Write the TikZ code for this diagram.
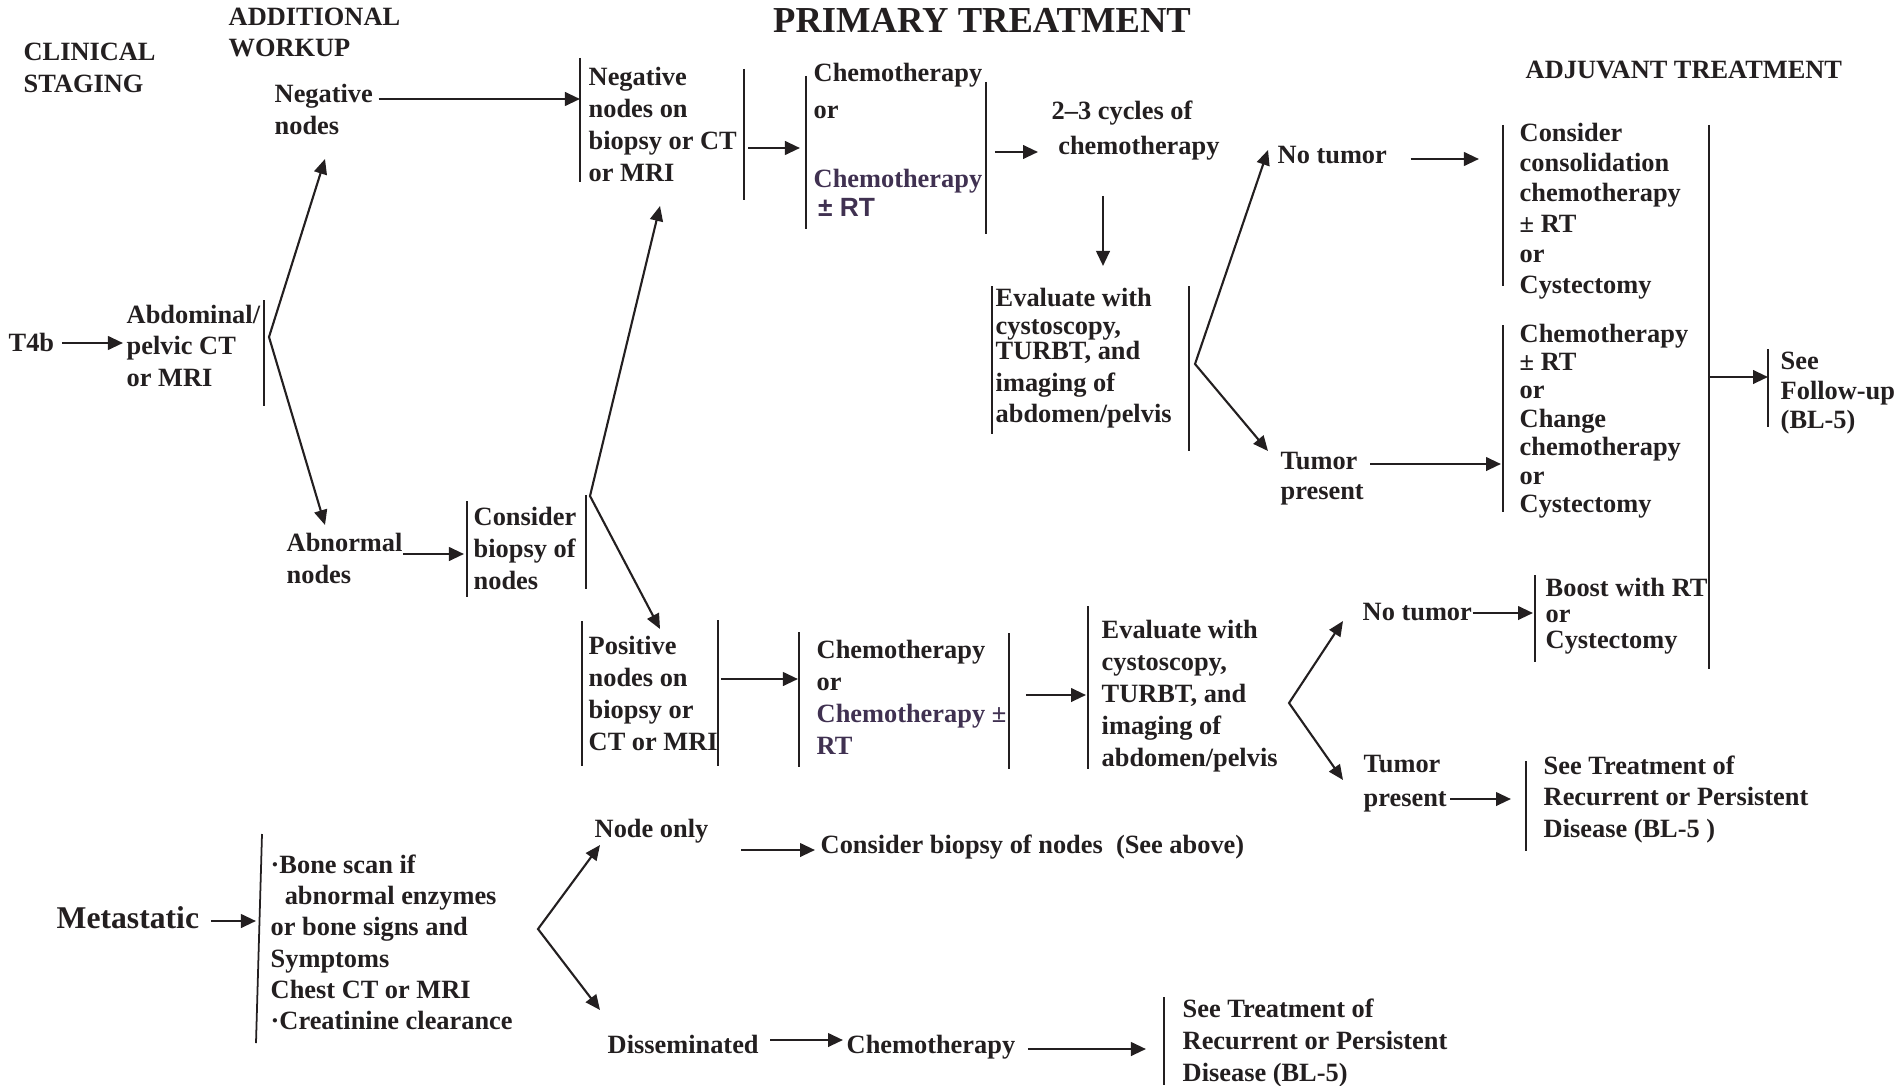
\documentclass[tikz,border=0pt]{standalone}
\usepackage{fontspec}
\setmainfont{Liberation Serif}
\newfontfamily\sansb{Liberation Sans}
\usetikzlibrary{arrows.meta}
\definecolor{ink}{HTML}{231F20}
\definecolor{purp}{HTML}{403151}
\newcommand{\lsp}[1]{\fontsize{7.5pt}{#1}\selectfont}

\begin{document}
\begin{tikzpicture}[
  x=0.01cm, y=-0.01cm,
  txt/.style={inner sep=0pt, align=left, anchor=north west, text=ink, font=\bfseries\lsp{9.1pt}},
  lh/.style={font=\bfseries\lsp{#1}},
  arr/.style={draw=ink, line width=0.7pt, -{Triangle[length=1.5mm, width=1.35mm]}},
  fork/.style={draw=ink, line width=0.6pt, line join=miter,
    {Triangle[length=1.5mm, width=1.3mm]}-{Triangle[length=1.5mm, width=1.3mm]}},
  bar/.style={draw=ink, line width=0.5pt},
]
\useasboundingbox (0,0) rectangle (1901,1085);

\node[txt] (hclin) at (23,42) {CLINICAL\\STAGING};
\node[txt, lh=8.8pt] (hwork) at (228,7) {ADDITIONAL\\WORKUP};
\node[txt, anchor=base, font=\bfseries\fontsize{10.4pt}{12pt}\selectfont] (hprim) at (982,33) {PRIMARY TREATMENT};
\node[txt] (hadj) at (1525,60) {ADJUVANT TREATMENT};

\node[txt] (t4b) at (8,332) {T4b};
\node[txt, lh=9pt] (abd) at (126,304) {Abdominal/\\pelvic CT\\or MRI};
\node[txt] (negn) at (274,83) {Negative\\nodes};
\node[txt] (abn) at (286,532) {Abnormal\\nodes};
\node[txt] (bxcons) at (473,506) {Consider\\biopsy of\\nodes};
\node[txt] (negbx) at (588,66) {Negative\\nodes on\\biopsy or CT\\or MRI};
\node[txt] (posn) at (588,635) {Positive\\nodes on\\biopsy or\\CT or MRI};
\node[txt] (chemo1) at (813,62) {Chemotherapy\\[1.7pt]or\\[10.5pt]{\color{purp}Chemotherapy}\\[-1.1pt]{\color{purp}\sansb\,± RT}};
\node[txt] (chemo3) at (816,639) {Chemotherapy\\or\\{\color{purp}Chemotherapy ±}\\{\color{purp}RT}};
\node[txt] (cyc) at (1051,100) {2–3 cycles of\\[0.9pt]\ chemotherapy};
\node[txt] (eval1) at (995,287) {Evaluate with\\[-1.1pt]cystoscopy,\\[-2pt]TURBT, and\\imaging of\\[-0.3pt]abdomen/pelvis};
\node[txt] (eval2) at (1101,619) {Evaluate with\\cystoscopy,\\TURBT, and\\imaging of\\abdomen/pelvis};
\node[txt] (notum1) at (1277,146) {No tumor};
\node[txt, lh=8.5pt] (tumpr1) at (1280,452) {Tumor\\present};
\node[txt, lh=8.65pt] (consol) at (1519,122) {Consider\\consolidation\\chemotherapy\\± RT\\or\\Cystectomy};
\node[txt, lh=8.1pt] (chemo2) at (1519,323) {Chemotherapy\\± RT\\or\\Change\\chemotherapy\\or\\Cystectomy};
\node[txt, lh=8.5pt] (follow) at (1780,351) {See\\Follow-up\\(BL-5)};
\node[txt] (notum2) at (1362,603) {No tumor};
\node[txt, lh=9.4pt] (tumpr2) at (1363,755) {Tumor\\present};
\node[txt, lh=7.5pt] (boost) at (1545,577) {Boost with RT\\or\\Cystectomy};
\node[txt, lh=8.96pt] (recur1) at (1543,755) {See Treatment of\\Recurrent or Persistent\\Disease (BL-5 )};

\node[txt, anchor=base west, font=\bfseries\fontsize{9pt}{11pt}\selectfont] (meta) at (56,928) {Metastatic};
\node[txt, lh=8.9pt] (bone) at (270,854) {·Bone scan if\\\hspace*{4pt}abnormal enzymes\\or bone signs and\\Symptoms\\Chest CT or MRI\\·Creatinine clearance};
\node[txt] (nodeonly) at (594,818) {Node only};
\node[txt] (seeabove) at (820,834) {Consider biopsy of nodes\ \ (See above)};
\node[txt] (dissem) at (607,1034) {Disseminated};
\node[txt] (chemo4) at (846,1034) {Chemotherapy};
\node[txt] (recur2) at (1182,998) {See Treatment of\\Recurrent or Persistent\\Disease (BL-5)};

\foreach \x/\ya/\yb in {264/300/406, 580/58/182, 744/69/200, 806/76/229, 986/82/234,
    992/286/434, 1189/286/451, 1503/125/286, 1503/325/512, 1709/125/669, 1768/349/427,
    467/501/597, 586/495/589, 582/621/766, 718/620/766, 799/632/767, 1009/633/769,
    1088/606/769, 1535/575/662, 1526/761/851, 1164/997/1085}
  \draw[bar] (\x,\ya) -- (\x,\yb);
\draw[bar] (262,834) -- (256,1043);

\coordinate (fkabd) at (269,337);
\coordinate (tpneg) at (325,159);
\coordinate (tpabn) at (325,525);
\coordinate (fkbx) at (590,496);
\coordinate (tpnegbx) at (660,206);
\coordinate (tpposn) at (660,629);
\coordinate (fkev1) at (1195,364);
\coordinate (tpnotum1) at (1268,150);
\coordinate (tptumpr1) at (1268,451);
\coordinate (fkev2) at (1289,703);
\coordinate (tpnotum2) at (1343,621);
\coordinate (tptumpr2) at (1343,780);
\coordinate (fkbone) at (538,929);
\coordinate (tpnode) at (600,845);
\coordinate (tpdiss) at (600,1010);
\coordinate (jn) at (1709,377);

\draw[fork] (tpneg) -- (fkabd) -- (tpabn);
\draw[fork] (tpnegbx) -- (fkbx) -- (tpposn);
\draw[fork] (tpnotum1) -- (fkev1) -- (tptumpr1);
\draw[fork] (tpnotum2) -- (fkev2) -- (tptumpr2);
\draw[fork] (tpnode) -- (fkbone) -- (tpdiss);

\draw[arr, shorten <=0.7mm, shorten >=0.3mm] (t4b.east |- 0,343) -- (abd.west |- 0,343);
\draw[arr, shorten <=0.5mm, shorten >=0.8mm] (negn.east |- 0,99) -- (negbx.west |- 0,99);
\draw[arr, shorten <=1.1mm, shorten >=1.3mm] (negbx.east |- 0,148) -- (chemo1.west |- 0,148);
\draw[arr, shorten <=1.2mm, shorten >=1.3mm] (chemo1.east |- 0,152) -- (cyc.west |- 0,152);
\draw[arr, shorten <=3.5mm, shorten >=2.1mm] (1103,0 |- cyc.south) -- (1103,0 |- eval1.north);
\draw[arr, shorten <=2.3mm, shorten >=4mm] (notum1.east |- 0,159) -- (consol.west |- 0,159);
\draw[arr, shorten <=0.6mm, shorten >=1.8mm] (tumpr1.east |- 0,464) -- (chemo2.west |- 0,464);
\draw[arr, shorten >=1.2mm] (jn) -- (follow.west |- jn);
\draw[arr, shorten >=0.9mm] (abn.east |- 0,554) -- (bxcons.west |- 0,554);
\draw[arr, shorten <=0.25mm, shorten >=1.8mm] (posn.east |- 0,679) -- (chemo3.west |- 0,679);
\draw[arr, shorten <=1.9mm, shorten >=1.5mm] (chemo3.east |- 0,695) -- (eval2.west |- 0,695);
\draw[arr, shorten >=1.2mm] (notum2.east |- 0,613) -- (boost.west |- 0,613);
\draw[arr, shorten <=0.3mm, shorten >=3.2mm] (tumpr2.east |- 0,799) -- (recur1.west |- 0,799);
\draw[arr, shorten <=1.1mm, shorten >=1.4mm] (meta.east |- 0,921) -- (bone.west |- 0,921);
\draw[arr, shorten <=3.2mm, shorten >=0.5mm] (nodeonly.east |- 0,850) -- (seeabove.west |- 0,850);
\draw[arr, shorten <=1.1mm, shorten >=0.3mm] (dissem.east |- 0,1040) -- (chemo4.west |- 0,1040);
\draw[arr, shorten <=1.2mm, shorten >=3.6mm] (chemo4.east |- 0,1049) -- (recur2.west |- 0,1049);
\end{tikzpicture}
\end{document}
